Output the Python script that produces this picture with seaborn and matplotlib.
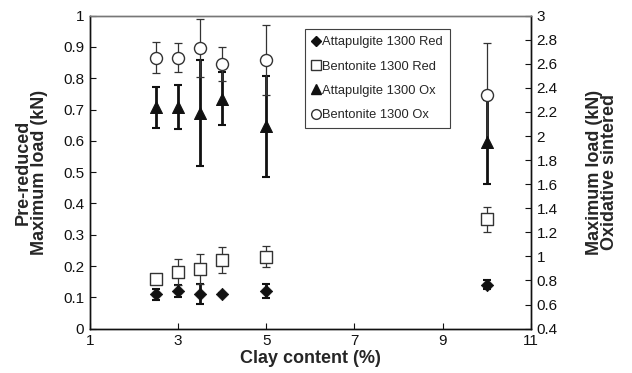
import numpy as np
import pandas as pd
import matplotlib
matplotlib.use("Agg")
import matplotlib.pyplot as plt
import seaborn as sns
from matplotlib.lines import Line2D

clay = [2.5, 3, 3.5, 4, 5, 10]
att_red = [0.11, 0.12, 0.11, 0.11, 0.12, 0.14]
att_red_err = [0.018, 0.02, 0.032, 0.004, 0.022, 0.015]
ben_red = [0.16, 0.18, 0.19, 0.22, 0.23, 0.35]
ben_red_err = [0.015, 0.042, 0.048, 0.042, 0.033, 0.04]
att_ox = [2.24, 2.24, 2.19, 2.31, 2.08, 1.95]
att_ox_err = [0.17, 0.18, 0.44, 0.22, 0.42, 0.35]
ben_ox = [2.65, 2.65, 2.73, 2.60, 2.63, 2.34]
ben_ox_err = [0.13, 0.12, 0.24, 0.14, 0.29, 0.43]

labels = ["Attapulgite 1300 Red", "Bentonite 1300 Red", "Attapulgite 1300 Ox", "Bentonite 1300 Ox"]
xticks = [1, 3, 5, 7, 9, 11]
yticks_left = [0, 0.1, 0.2, 0.3, 0.4, 0.5, 0.6, 0.7, 0.8, 0.9, 1]
yticks_right = [0.4, 0.6, 0.8, 1, 1.2, 1.4, 1.6, 1.8, 2, 2.2, 2.4, 2.6, 2.8, 3]

sns.set_theme(style="ticks")
plt.rcParams['font.family'] = ['Liberation Sans', 'DejaVu Sans']

fig = plt.figure(figsize=(6.32, 3.73), dpi=100)
ax = fig.add_axes([0.142, 0.119, 0.698, 0.839])
ax2 = ax.twinx()

df = pd.DataFrame({"clay": clay, "att_red": att_red, "ben_red": ben_red,
                   "att_ox": att_ox, "ben_ox": ben_ox})

# error bars
ax.errorbar(clay, att_red, yerr=att_red_err, fmt='none', ecolor='#111111', elinewidth=2.0, capsize=3, capthick=1.5, zorder=2)
ax.errorbar(clay, ben_red, yerr=ben_red_err, fmt='none', ecolor='#333333', elinewidth=0.9, capsize=3, capthick=0.9, zorder=2)
ax2.errorbar(clay, att_ox, yerr=att_ox_err, fmt='none', ecolor='#111111', elinewidth=2.0, capsize=3, capthick=1.5, zorder=2)
ax2.errorbar(clay, ben_ox, yerr=ben_ox_err, fmt='none', ecolor='#333333', elinewidth=0.9, capsize=3, capthick=0.9, zorder=2)

sns.scatterplot(data=df, x="clay", y="att_red", ax=ax, marker='D', s=40, color='#111111', edgecolor='#111111', zorder=3, legend=False)
sns.scatterplot(data=df, x="clay", y="ben_red", ax=ax, marker='s', s=75, facecolor='white', edgecolor='#333333', linewidth=1.0, zorder=3, legend=False)
sns.scatterplot(data=df, x="clay", y="att_ox", ax=ax2, marker='^', s=75, color='#111111', edgecolor='#111111', zorder=3, legend=False)
sns.scatterplot(data=df, x="clay", y="ben_ox", ax=ax2, marker='o', s=75, facecolor='white', edgecolor='#333333', linewidth=1.0, zorder=3, legend=False)

ax.set_xlim(1, 11)
ax.set_ylim(0, 1)
ax2.set_ylim(0.4, 3)
ax.set_xticks(xticks)
ax.set_xticklabels([str(t) for t in xticks])
ax.set_yticks(yticks_left)
ax.set_yticklabels([f"{t:g}" for t in yticks_left])
ax2.set_yticks(yticks_right)
ax2.set_yticklabels([f"{t:g}" for t in yticks_right])

for a in (ax, ax2):
    a.tick_params(direction='in', length=4, width=0.8, labelsize=11, colors='#111111', pad=4)
    for s in a.spines.values():
        s.set_color('#111111')
        s.set_linewidth(1.0)
ax2.spines['top'].set_color('#777777')
ax.spines['top'].set_color('#777777')

ax.set_xlabel("Clay content (%)", fontsize=13, fontweight='bold', labelpad=1)
ax.set_ylabel("")
ax2.set_ylabel("")
fig.text(0.049, 0.539, "Pre-reduced\nMaximum load (kN)", rotation=90, ha='center', va='center',
         fontsize=13, fontweight='bold', linespacing=0.95)
fig.text(0.953, 0.539, "Maximum load (kN)\nOxidative sintered", rotation=90, ha='center', va='center',
         fontsize=13, fontweight='bold', linespacing=0.85)

handles = [
    Line2D([], [], marker='D', linestyle='none', color='#111111', markersize=5),
    Line2D([], [], marker='s', linestyle='none', markerfacecolor='white', markeredgecolor='#333333', markersize=7),
    Line2D([], [], marker='^', linestyle='none', color='#111111', markersize=7),
    Line2D([], [], marker='o', linestyle='none', markerfacecolor='white', markeredgecolor='#333333', markersize=7),
]
leg = ax.legend(handles, labels, loc='upper left', bbox_to_anchor=(0.488, 0.957), fontsize=9.3,
                frameon=True, fancybox=False, handlelength=0.6, handletextpad=0.15,
                labelspacing=0.95, borderpad=0.55, borderaxespad=0)
leg.get_frame().set_edgecolor('#111111')
leg.get_frame().set_linewidth(0.8)
leg.set_zorder(5)

fig.savefig("out.png", dpi=100)
